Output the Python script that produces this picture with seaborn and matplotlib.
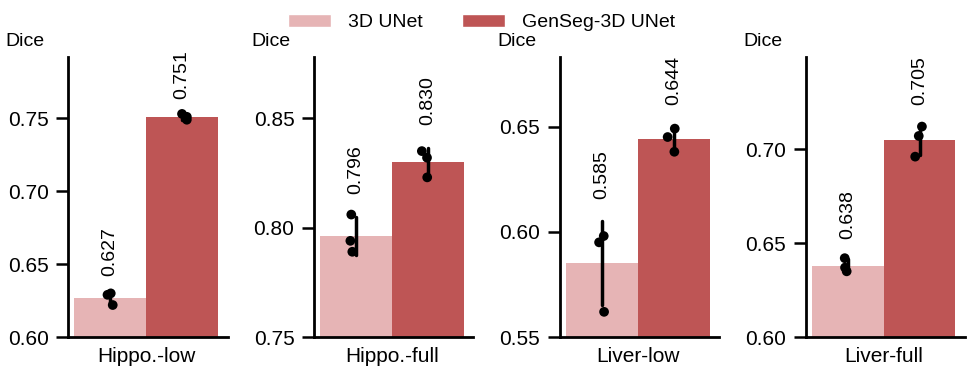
import numpy as np
import pandas as pd
import matplotlib.pyplot as plt
from matplotlib.patches import Patch
from matplotlib.ticker import MultipleLocator, FormatStrFormatter
import seaborn as sns

# datos (3 corridas por modelo)
datasets = ["Hippo.-low", "Hippo.-full", "Liver-low", "Liver-full"]
models = ["3D UNet", "GenSeg-3D UNet"]
unet_runs = [[0.630, 0.622, 0.629], [0.806, 0.789, 0.794],
             [0.598, 0.595, 0.562], [0.642, 0.635, 0.637]]
genseg_runs = [[0.753, 0.749, 0.751], [0.832, 0.835, 0.823],
               [0.649, 0.645, 0.638], [0.712, 0.707, 0.696]]
y_limits = [(0.60, 0.792), (0.75, 0.878), (0.55, 0.683), (0.60, 0.749)]
colors = ["#E6B4B5", "#BE5555"]

rows = []
for ds, u, g in zip(datasets, unet_runs, genseg_runs):
    for v in u:
        rows.append((ds, models[0], v))
    for v in g:
        rows.append((ds, models[1], v))
df = pd.DataFrame(rows, columns=["dataset", "model", "dice"])

sns.set_style("ticks")
plt.rcParams["font.family"] = ["Liberation Sans", "DejaVu Sans"]
plt.rcParams["text.color"] = "black"
plt.rcParams["xtick.color"] = "black"
plt.rcParams["ytick.color"] = "black"
plt.rcParams["axes.edgecolor"] = "black"

fig, axes = plt.subplots(1, 4, figsize=(9.75, 3.75), dpi=100)
fig.subplots_adjust(left=0.0697, right=0.99, bottom=0.101, top=0.848, wspace=0.54)

np.random.seed(3)
for ax, ds, ylim in zip(axes, datasets, y_limits):
    sub = df[df.dataset == ds]
    sns.barplot(data=sub, x="dataset", y="dice", hue="model", hue_order=models,
                palette=colors, errorbar="sd", width=0.8, saturation=1,
                linewidth=0, err_kws={"color": "black", "linewidth": 2.5},
                legend=False, ax=ax)
    sns.stripplot(data=sub, x="dataset", y="dice", hue="model", hue_order=models,
                  palette=["black", "black"], dodge=True, jitter=0.07, size=7,
                  legend=False, ax=ax, zorder=3)

    stats = sub.groupby("model")["dice"].agg(["mean", "std"]).loc[models]
    for bars, (m, s) in zip(ax.containers, stats.values):
        bar = bars[0]
        ax.text(bar.get_x() + bar.get_width() / 2, m + s + 0.0105, f"{m:.3f}",
                rotation=90, ha="center", va="bottom", fontsize=14)

    ax.set_ylim(*ylim)
    ax.set_xlim(-0.435, 0.455)
    ax.yaxis.set_major_locator(MultipleLocator(0.05))
    ax.yaxis.set_major_formatter(FormatStrFormatter("%.2f"))
    ax.tick_params(axis="y", length=9, width=1.8, labelsize=15, pad=5)
    ax.tick_params(axis="x", length=0, labelsize=15, pad=7)
    ax.set_xlabel("")
    ax.set_ylabel("")
    sns.despine(ax=ax)
    for side in ["left", "bottom"]:
        ax.spines[side].set_linewidth(2)
    ax.text(-0.39, 1.055, "Dice", transform=ax.transAxes, ha="left",
            va="center", fontsize=14)

handles = [Patch(facecolor=c, label=m) for c, m in zip(colors, models)]
fig.legend(handles=handles, loc="upper center", bbox_to_anchor=(0.494, 1.01),
           ncol=2, frameon=False, fontsize=14, handlelength=2.2,
           handleheight=0.7, handletextpad=0.9, columnspacing=2.0)

plt.savefig("out.png", dpi=100)
